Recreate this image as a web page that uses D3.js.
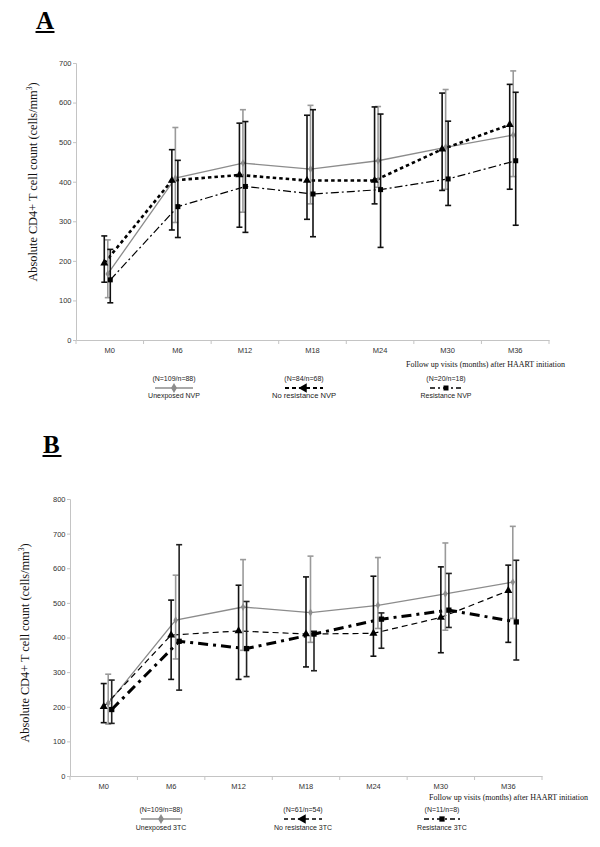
<!DOCTYPE html>
<html>
<head>
<meta charset="utf-8">
<script src="https://cdn.jsdelivr.net/npm/d3@7/dist/d3.min.js"></script>
<style>
  html, body { margin: 0; padding: 0; background: #fff; }
  svg { display: block; }
</style>
</head>
<body>
<svg id="chart" width="600" height="847"></svg>
<script>
// ---------------- DATA ----------------
const categories = ["M0", "M6", "M12", "M18", "M24", "M30", "M36"];
const yTicksA = [0, 100, 200, 300, 400, 500, 600, 700];
const yTicksB = [0, 100, 200, 300, 400, 500, 600, 700, 800];
const xAxisTitle = "Follow up visits (months) after HAART initiation";

// Panel A (NVP)
const unexposedNVP_mean  = [167, 409, 447, 432, 453, 487, 518];
const unexposedNVP_upper = [253, 537, 582, 593, 590, 633, 680];
const unexposedNVP_lower = [107, 297, 323, 344, 386, 381, 413];

const noResNVP_mean  = [194, 403, 417, 403, 403, 482, 544];
const noResNVP_upper = [263, 481, 548, 568, 589, 624, 646];
const noResNVP_lower = [146, 278, 285, 305, 344, 378, 381];

const resNVP_mean  = [152, 337, 388, 369, 380, 407, 453];
const resNVP_upper = [229, 454, 552, 582, 571, 553, 626];
const resNVP_lower = [94, 259, 272, 261, 234, 340, 290];

const legendA_names  = ["Unexposed NVP", "No resistance NVP", "Resistance NVP"];
const legendA_counts = ["(N=109/n=88)", "(N=84/n=68)", "(N=20/n=18)"];

// Panel B (3TC)
const unexposed3TC_mean  = [210, 450, 488, 472, 493, 526, 560];
const unexposed3TC_upper = [294, 580, 625, 635, 631, 673, 721];
const unexposed3TC_lower = [150, 338, 363, 386, 426, 421, 455];

const noRes3TC_mean  = [200, 407, 419, 410, 412, 458, 535];
const noRes3TC_upper = [267, 508, 551, 575, 577, 604, 609];
const noRes3TC_lower = [154, 279, 279, 315, 346, 356, 386];

const res3TC_mean  = [192, 389, 368, 410, 453, 479, 445];
const res3TC_upper = [277, 668, 504, 418, 471, 585, 623];
const res3TC_lower = [152, 248, 287, 304, 369, 429, 335];

const legendB_names  = ["Unexposed 3TC", "No resistance 3TC", "Resistance 3TC"];
const legendB_counts = ["(N=109/n=88)", "(N=61/n=54)", "(N=11/n=8)"];

// ---------------- DRAWING ----------------
const svg = d3.select("#chart");
const SANS = "'Liberation Sans', Arial, sans-serif";
const SERIF = "'Liberation Serif', 'Times New Roman', serif";
const GRAY = "#8c8c8c";
const AXIS = "#c4c4c4";

function zip(mean, upper, lower) {
  return categories.map((c, i) => ({ cat: c, v: mean[i], hi: upper[i], lo: lower[i] }));
}

function drawPanel(cfg) {
  const g = svg.append("g");
  const x = d3.scaleBand().domain(categories).range(cfg.xRange);
  const y = d3.scaleLinear().domain([0, cfg.yMax]).range(cfg.yRange);
  const bw = x.bandwidth();

  // panel letter
  g.append("text").attr("x", cfg.letterX).attr("y", cfg.letterY)
    .attr("font-family", SERIF).attr("font-weight", "bold").attr("font-size", 25)
    .text(cfg.letter);
  g.append("line").attr("x1", cfg.letterX - 0.5).attr("x2", cfg.letterX + 18.5)
    .attr("y1", cfg.letterY + 3.5).attr("y2", cfg.letterY + 3.5)
    .attr("stroke", "#000").attr("stroke-width", 2);

  // y axis
  const ya = g.append("g").attr("transform", `translate(${cfg.xRange[0]},0)`)
    .call(d3.axisLeft(y).tickValues(cfg.yTicks).tickSize(3).tickPadding(1.5).tickFormat(d3.format("d")));
  ya.selectAll("path,line").attr("stroke", AXIS);
  ya.selectAll("text").attr("font-family", SANS).attr("font-size", 7.5).attr("fill", "#333");

  // x axis
  const xa = g.append("g").attr("transform", `translate(0,${cfg.yRange[0]})`)
    .call(d3.axisBottom(x).tickSize(0).tickPadding(8));
  xa.select("path").attr("stroke", AXIS);
  xa.selectAll("text").attr("font-family", SANS).attr("font-size", 7.5).attr("fill", "#333");
  const bounds = categories.map(c => x(c)).concat([x.range()[1]]);
  xa.selectAll("line.bound").data(bounds).enter().append("line").attr("class", "bound")
    .attr("x1", d => d).attr("x2", d => d).attr("y1", 0).attr("y2", 4)
    .attr("stroke", AXIS);

  // y title
  const yt = g.append("text")
    .attr("transform", `translate(${cfg.yTitleX},${cfg.yTitleY}) rotate(-90)`)
    .attr("text-anchor", "middle").attr("font-family", SERIF).attr("font-size", 12.3).attr("fill", "#111");
  yt.append("tspan").text("Absolute CD4+ T cell count (cells/mm");
  yt.append("tspan").attr("font-size", 7.5).attr("dy", -5).text("3");
  yt.append("tspan").attr("dy", 5).text(")");

  // x title
  g.append("text").attr("x", cfg.xTitleX).attr("y", cfg.xTitleY).attr("text-anchor", "end")
    .attr("font-family", SERIF).attr("font-size", 8).attr("fill", "#111")
    .text(xAxisTitle);

  // series
  cfg.series.forEach(s => {
    const pts = zip(s.mean, s.upper, s.lower);
    const px = d => x(d.cat) + bw / 2 + s.dx;
    const line = d3.line().x(px).y(d => y(d.v));
    g.append("path").datum(pts).attr("d", line).attr("fill", "none")
      .attr("stroke", s.color).attr("stroke-width", s.width)
      .attr("stroke-dasharray", s.dash || null);
  });
  cfg.series.forEach(s => {
    const pts = zip(s.mean, s.upper, s.lower);
    const px = d => x(d.cat) + bw / 2 + s.dx;
    const eb = g.append("g");
    eb.selectAll("line.v").data(pts).enter().append("line")
      .attr("x1", px).attr("x2", px).attr("y1", d => y(d.hi)).attr("y2", d => y(d.lo))
      .attr("stroke", s.barColor).attr("stroke-width", 1.6);
    ["hi", "lo"].forEach(k => {
      eb.selectAll("line.c" + k).data(pts).enter().append("line")
        .attr("x1", d => px(d) - 3).attr("x2", d => px(d) + 3)
        .attr("y1", d => y(d[k])).attr("y2", d => y(d[k]))
        .attr("stroke", s.barColor).attr("stroke-width", 1.6);
    });
    g.selectAll(null).data(pts).enter().append("path")
      .attr("transform", d => `translate(${px(d)},${y(d.v)})`)
      .attr("d", d3.symbol().type(s.symbol).size(s.symSize))
      .attr("fill", s.color);
  });

  // legend
  cfg.legend.forEach((L, i) => {
    const lg = g.append("g");
    const s = cfg.series[i];
    lg.append("text").attr("x", L.cx).attr("y", cfg.legY[0]).attr("text-anchor", "middle")
      .attr("font-family", SANS).attr("font-size", 7).attr("fill", "#222").text(L.count);
    lg.append("line").attr("x1", L.cx - L.half).attr("x2", L.cx + L.half)
      .attr("y1", cfg.legY[1]).attr("y2", cfg.legY[1])
      .attr("stroke", s.color).attr("stroke-width", s.legWidth || s.width)
      .attr("stroke-dasharray", s.legDash || s.dash || null);
    lg.append("path").attr("transform", `translate(${L.cx},${cfg.legY[1]}) rotate(${s.legRot || 0})`)
      .attr("d", d3.symbol().type(s.symbol).size(s.legSym || s.symSize)).attr("fill", s.color);
    lg.append("text").attr("x", L.cx).attr("y", cfg.legY[2]).attr("text-anchor", "middle")
      .attr("font-family", SANS).attr("font-size", L.fs).attr("fill", "#222").text(L.name);
  });
}

drawPanel({
  letter: "A", letterX: 36, letterY: 28.5,
  xRange: [76, 549], yRange: [340, 63], yMax: 700, yTicks: yTicksA,
  yTitleX: 37, yTitleY: 182, xTitleX: 565, xTitleY: 367,
  legY: [381, 388, 398],
  series: [
    { mean: unexposedNVP_mean, upper: unexposedNVP_upper, lower: unexposedNVP_lower, dx: -2,
      color: GRAY, barColor: "#9a9a9a", width: 1.3, symbol: d3.symbolDiamond, symSize: 18, legSym: 30 },
    { mean: noResNVP_mean, upper: noResNVP_upper, lower: noResNVP_lower, dx: -5.5,
      color: "#000", barColor: "#111", width: 2.6, dash: "3.5,3", symbol: d3.symbolTriangle, symSize: 28, legRot: -90, legSym: 40, legWidth: 2, legDash: "4,3" },
    { mean: resNVP_mean, upper: resNVP_upper, lower: resNVP_lower, dx: 0.5,
      color: "#000", barColor: "#111", width: 1.2, dash: "8,3,2,3", symbol: d3.symbolSquare, symSize: 25, legWidth: 1.6, legDash: "5,3,2,3" }
  ],
  legend: [
    { cx: 174, half: 19, count: legendA_counts[0], name: legendA_names[0], fs: 7 },
    { cx: 304, half: 19, count: legendA_counts[1], name: legendA_names[1], fs: 7.6 },
    { cx: 446, half: 16, count: legendA_counts[2], name: legendA_names[2], fs: 7 }
  ]
});

drawPanel({
  letter: "B", letterX: 43, letterY: 452.5,
  xRange: [70, 542], yRange: [776, 499], yMax: 800, yTicks: yTicksB,
  yTitleX: 29, yTitleY: 643, xTitleX: 588, xTitleY: 800,
  legY: [812, 819, 830],
  series: [
    { mean: unexposed3TC_mean, upper: unexposed3TC_upper, lower: unexposed3TC_lower, dx: 4.5,
      color: GRAY, barColor: "#9a9a9a", width: 1.3, symbol: d3.symbolDiamond, symSize: 18, legSym: 30 },
    { mean: noRes3TC_mean, upper: noRes3TC_upper, lower: noRes3TC_lower, dx: 0,
      color: "#000", barColor: "#111", width: 1.2, dash: "6,4", symbol: d3.symbolTriangle, symSize: 28, legRot: -90, legSym: 40, legWidth: 1.6, legDash: "4,3" },
    { mean: res3TC_mean, upper: res3TC_upper, lower: res3TC_lower, dx: 8,
      color: "#000", barColor: "#222", width: 3, dash: "10,5,3,5", symbol: d3.symbolSquare, symSize: 28, legWidth: 1.6, legDash: "5,3,2,3" }
  ],
  legend: [
    { cx: 161, half: 20, count: legendB_counts[0], name: legendB_names[0], fs: 7 },
    { cx: 303, half: 19, count: legendB_counts[1], name: legendB_names[1], fs: 7 },
    { cx: 442, half: 18, count: legendB_counts[2], name: legendB_names[2], fs: 7 }
  ]
});
</script>
</body>
</html>
